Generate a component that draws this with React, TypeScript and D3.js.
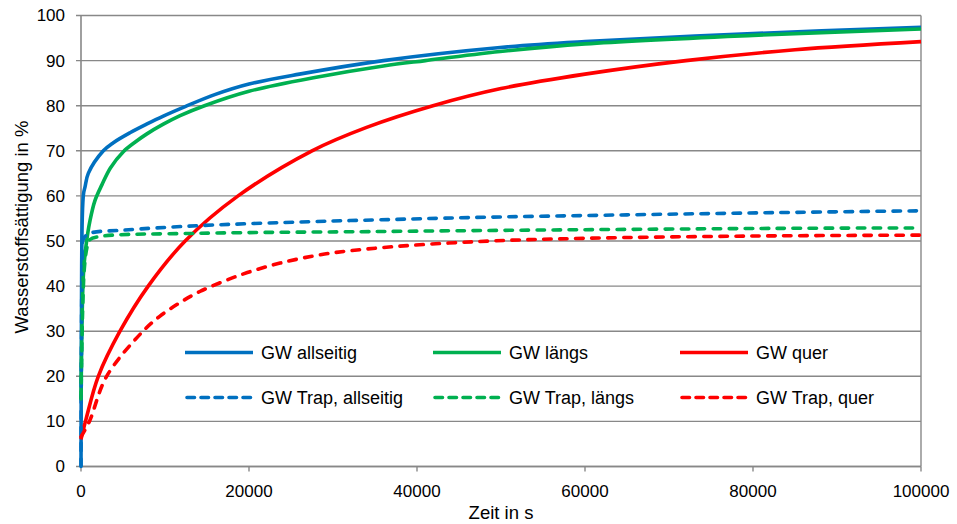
import React from "react";
import * as d3 from "d3";

// ---- Data ----
const xTicks = [0, 20000, 40000, 60000, 80000, 100000];
const yTicks = [0, 10, 20, 30, 40, 50, 60, 70, 80, 90, 100];

const seriesNames = [
  "GW allseitig",
  "GW längs",
  "GW quer",
  "GW Trap, allseitig",
  "GW Trap, längs",
  "GW Trap, quer",
];
const seriesColors = ["#0070C0", "#00B050", "#FF0000", "#0070C0", "#00B050", "#FF0000"];
const seriesDashed = [false, false, false, true, true, true];

const tAllseitig = [0, 50, 150, 300, 480, 870, 2660, 3850, 5830, 7800, 9800, 12400, 16000, 20000, 26000, 36000, 49900, 60000, 80000, 100000];
const vAllseitig = [0, 30, 55, 60.5, 62, 65, 70, 71.8, 74.0, 75.9, 77.7, 79.8, 82.5, 84.8, 87.0, 90, 92.9, 94.2, 96, 97.4];

const tLaengs = [0, 100, 300, 600, 1070, 1670, 2500, 3500, 5040, 6500, 7800, 9800, 11800, 14700, 20000, 28000, 36000, 41000, 49900, 60000, 80000, 100000];
const vLaengs = [15, 30, 43, 49, 54.5, 59, 62.5, 66.2, 69.8, 72, 73.7, 75.9, 77.8, 80, 83.2, 86.3, 88.8, 90, 92.0, 93.7, 95.6, 97.0];

const tQuer = [0, 600, 2060, 4640, 8000, 12400, 18700, 27500, 34000, 41900, 50000, 60000, 72000, 85000, 100000];
const vQuer = [6, 10.5, 20, 30, 40, 50, 60, 70, 75.2, 80, 83.8, 87.0, 90, 92.4, 94.2];

const tTrapAllseitig = [0, 50, 150, 300, 1070, 5000, 14000, 27600, 35600, 46300, 65000, 82900, 100000];
const vTrapAllseitig = [0, 25, 45, 50.5, 51.7, 52.4, 53.4, 54.3, 54.7, 55.2, 55.8, 56.3, 56.7];

const tTrapLaengs = [0, 200, 400, 700, 1000, 2260, 14000, 35600, 46300, 82900, 100000];
const vTrapLaengs = [15, 35, 44, 48.5, 50.2, 51.0, 51.7, 52.1, 52.3, 52.8, 52.9];

const tTrapQuer = [0, 1000, 3050, 7380, 9370, 11750, 14150, 16900, 19800, 23700, 29000, 35600, 47500, 60000, 80000, 100000];
const vTrapQuer = [6.6, 10, 20, 30, 33.3, 36.3, 38.8, 41.0, 43.0, 45.1, 47.1, 48.5, 49.9, 50.6, 51.1, 51.3];

const seriesT = [tAllseitig, tLaengs, tQuer, tTrapAllseitig, tTrapLaengs, tTrapQuer];
const seriesV = [vAllseitig, vLaengs, vQuer, vTrapAllseitig, vTrapLaengs, vTrapQuer];

const xTitle = "Zeit in s";
const yTitle = "Wasserstoffsättigung in %";

// ---- Layout ----
const W = 957;
const H = 524;
const L = 81;
const R = 921;
const T = 15.5;
const B = 466.5;
const FONT = "'Liberation Sans', Arial, sans-serif";
const GRID = "#888888";

export default function App() {
  const x = d3.scaleLinear().domain([0, 100000]).range([L, R]);
  const y = d3.scaleLinear().domain([0, 100]).range([B, T]);
  const line = d3
    .line<[number, number]>()
    .x((d) => x(d[0]))
    .y((d) => y(d[1]))
    .curve(d3.curveCatmullRom.alpha(0.5));

  const legendCols = [185, 433, 680];
  const legendRows = [352.5, 397.5];

  return (
    <div style={{ position: "absolute", left: 0, top: 0 }}>
      <svg width={W} height={H} style={{ display: "block", background: "#fff" }}>
        {/* gridlines */}
        {yTicks.map((v) => (
          <line key={"g" + v} x1={L - 5} x2={R} y1={y(v)} y2={y(v)} stroke={GRID} strokeWidth={1.4} />
        ))}
        {/* right border */}
        <line x1={R} x2={R} y1={T} y2={B} stroke={GRID} strokeWidth={1.4} />
        {/* axes */}
        <line x1={L} x2={L} y1={T} y2={B} stroke={GRID} strokeWidth={1.6} />
        <line x1={L} x2={R} y1={B} y2={B} stroke={GRID} strokeWidth={1.6} />
        {xTicks.map((v) => (
          <line key={"xt" + v} x1={x(v)} x2={x(v)} y1={B} y2={B + 5} stroke={GRID} strokeWidth={1.4} />
        ))}
        {/* tick labels */}
        {yTicks.map((v) => (
          <text key={"yl" + v} x={65} y={y(v)} dy="0.35em" textAnchor="end" fontFamily={FONT} fontSize={17} fill="#000">
            {v}
          </text>
        ))}
        {xTicks.map((v) => (
          <text key={"xl" + v} x={x(v)} y={491} dy="0.35em" textAnchor="middle" fontFamily={FONT} fontSize={17} fill="#000">
            {v}
          </text>
        ))}
        {/* titles */}
        <text x={(L + R) / 2} y={513} dy="0.35em" textAnchor="middle" fontFamily={FONT} fontSize={18.5} fill="#000">
          {xTitle}
        </text>
        <text
          transform={`translate(22, 227) rotate(-90)`}
          dy="0.35em"
          textAnchor="middle"
          fontFamily={FONT}
          fontSize={18.5}
          fill="#000"
        >
          {yTitle}
        </text>
        {/* series */}
        {seriesNames.map((name, i) => {
          const pts: [number, number][] = seriesT[i].map((t, k) => [t, seriesV[i][k]]);
          return (
            <path
              key={name}
              d={line(pts) || ""}
              fill="none"
              stroke={seriesColors[i]}
              strokeWidth={3.6}
              strokeLinecap={seriesDashed[i] ? "round" : "butt"}
              strokeLinejoin="round"
              strokeDasharray={seriesDashed[i] ? "7.5 8.5" : undefined}
            />
          );
        })}
        {/* legend */}
        {seriesNames.map((name, i) => {
          const cx = legendCols[i % 3];
          const cy = legendRows[Math.floor(i / 3)];
          return (
            <g key={"lg" + name}>
              <line
                x1={cx + (seriesDashed[i] ? 2 : 0)}
                x2={cx + 68}
                y1={cy}
                y2={cy}
                stroke={seriesColors[i]}
                strokeWidth={3.6}
                strokeLinecap={seriesDashed[i] ? "round" : "butt"}
                strokeDasharray={seriesDashed[i] ? "7.5 6.5" : undefined}
              />
              <text x={cx + 76} y={cy} dy="0.35em" fontFamily={FONT} fontSize={18} fill="#000">
                {name}
              </text>
            </g>
          );
        })}
      </svg>
    </div>
  );
}
